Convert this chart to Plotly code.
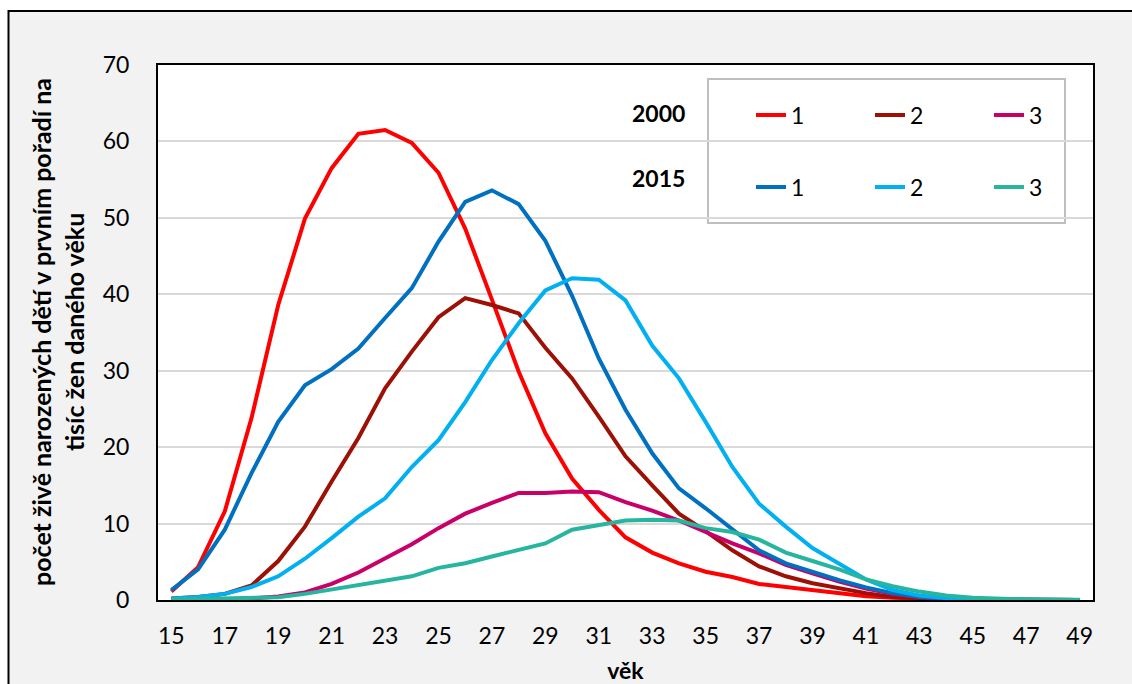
import plotly.graph_objects as go

ages = list(range(15, 50))
tick_ages = list(range(15, 50, 2))

y2000_p1 = [1.1, 4.3, 11.6, 23.8, 38.6, 49.9, 56.5, 61.0, 61.5, 59.8, 55.9, 48.6, 39.3, 29.9, 21.8,
            15.9, 11.8, 8.2, 6.2, 4.8, 3.7, 3.0, 2.1, 1.7, 1.3, 0.9, 0.5, 0.3, 0.15, 0.08,
            0.04, 0.02, 0.01, 0.0, 0.0]
y2000_p2 = [0.2, 0.4, 0.8, 1.9, 5.1, 9.6, 15.5, 21.2, 27.7, 32.5, 37.0, 39.5, 38.6, 37.5, 33.0,
            29.0, 24.0, 18.8, 15.0, 11.3, 9.0, 6.5, 4.4, 3.1, 2.2, 1.5, 0.9, 0.4, 0.2, 0.08,
            0.04, 0.02, 0.01, 0.0, 0.0]
y2000_p3 = [0.05, 0.05, 0.1, 0.2, 0.45, 1.0, 2.1, 3.6, 5.5, 7.3, 9.4, 11.3, 12.7, 14.0, 14.0,
            14.2, 14.1, 12.8, 11.7, 10.4, 8.9, 7.4, 6.1, 4.6, 3.5, 2.4, 1.5, 0.8, 0.4, 0.15,
            0.06, 0.03, 0.01, 0.0, 0.0]
y2015_p1 = [1.3, 4.0, 9.2, 16.6, 23.3, 28.1, 30.2, 32.9, 36.9, 40.8, 46.9, 52.1, 53.6, 51.8, 47.0,
            39.8, 31.6, 24.9, 19.2, 14.6, 12.0, 9.2, 6.5, 4.8, 3.7, 2.6, 1.65, 0.9, 0.4, 0.2,
            0.08, 0.04, 0.02, 0.01, 0.0]
y2015_p2 = [0.2, 0.4, 0.8, 1.7, 3.1, 5.4, 8.1, 10.9, 13.3, 17.4, 20.9, 25.9, 31.4, 36.2, 40.5,
            42.1, 41.9, 39.2, 33.3, 29.0, 23.3, 17.4, 12.6, 9.6, 6.8, 4.8, 2.7, 1.3, 0.6, 0.25,
            0.1, 0.04, 0.02, 0.01, 0.0]
y2015_p3 = [0.05, 0.1, 0.15, 0.2, 0.35, 0.8, 1.4, 2.0, 2.5, 3.1, 4.2, 4.8, 5.7, 6.5, 7.4,
            9.2, 9.8, 10.4, 10.5, 10.4, 9.4, 8.9, 7.9, 6.2, 5.1, 4.0, 2.7, 1.8, 1.1, 0.6,
            0.3, 0.15, 0.08, 0.04, 0.02]

series = [
    ("1", y2000_p1, "#ff0000", "legend"),
    ("2", y2000_p2, "#9c1006", "legend"),
    ("3", y2000_p3, "#c8006a", "legend"),
    ("1", y2015_p1, "#0070c0", "legend2"),
    ("2", y2015_p2, "#00b0f0", "legend2"),
    ("3", y2015_p3, "#27b5a0", "legend2"),
]
year_labels = ["2000", "2015"]
ytitle_lines = ["počet živě narozených dětí v prvním pořadí na", "tisíc žen daného věku"]
xtitle = "věk"

FONT = "Lato"
W, H = 1132, 684
L, R, T, B = 158, 39, 65, 84
PW, PH = W - L - R, H - T - B

def px(xp):
    return (xp - L) / PW

def py(yp):
    return (H - B - yp) / PH

fig = go.Figure()
for name, vals, col, lg in series:
    fig.add_trace(go.Scatter(x=ages, y=vals, mode="lines", name=name,
                             line=dict(color=col, width=4), legend=lg))

legend_common = dict(orientation="h", xanchor="left", yanchor="middle",
                     bgcolor="rgba(0,0,0,0)", borderwidth=0,
                     font=dict(family=FONT, size=23, color="black"),
                     entrywidth=74, entrywidthmode="pixels",
                     traceorder="normal", itemwidth=30)

fig.update_layout(
    width=W, height=H,
    margin=dict(l=L, r=R, t=T, b=B, autoexpand=False),
    paper_bgcolor="white",
    plot_bgcolor="white",
    font=dict(family=FONT, size=23, color="black"),
    showlegend=True,
    legend=dict(x=px(751), y=py(115), **legend_common),
    legend2=dict(x=px(751), y=py(187), **legend_common),
    xaxis=dict(range=[14.5, 49.5], tickvals=tick_ages, ticktext=[str(a) for a in tick_ages],
               showgrid=False, zeroline=False, showline=True, mirror=True,
               linecolor="black", linewidth=2, ticks="", ticklabelstandoff=14,
               tickfont=dict(family=FONT, size=23, color="black"),
               title=dict(text="<b>" + xtitle + "</b>", font=dict(family=FONT, size=23, color="black"),
                          standoff=15)),
    yaxis=dict(range=[0, 70], dtick=10, showgrid=True, gridcolor="#d9d9d9", gridwidth=2,
               zeroline=False, showline=True, mirror=True, linecolor="black", linewidth=2,
               ticks="", ticklabelstandoff=22,
               tickfont=dict(family=FONT, size=23, color="black")),
)

# chart area background & outer frame, plot area background
fig.add_shape(type="rect", xref="paper", yref="paper", x0=px(8.5), x1=px(1200), y0=py(760), y1=py(11),
              fillcolor="#f2f2f2", line=dict(color="black", width=2), layer="below")
fig.add_shape(type="rect", xref="paper", yref="paper", x0=0, x1=1, y0=0, y1=1,
              fillcolor="white", line=dict(width=0), layer="below")
# legend box
fig.add_shape(type="rect", xref="paper", yref="paper", x0=px(708), x1=px(1065), y0=py(223), y1=py(79),
              fillcolor="white", line=dict(color="#bfbfbf", width=2), layer="between")

fig.add_annotation(text="<b>" + year_labels[0] + "</b>", xref="paper", yref="paper",
                   x=px(687), y=py(113), xanchor="right", yanchor="middle", showarrow=False,
                   font=dict(family=FONT, size=23, color="black"))
fig.add_annotation(text="<b>" + year_labels[1] + "</b>", xref="paper", yref="paper",
                   x=px(687), y=py(178), xanchor="right", yanchor="middle", showarrow=False,
                   font=dict(family=FONT, size=23, color="black"))

for line_text, cx in zip(ytitle_lines, [41, 74]):
    fig.add_annotation(text="<b>" + line_text + "</b>",
                       xref="paper", yref="paper", x=px(cx), y=py(332), xanchor="center", yanchor="middle",
                       textangle=-90, showarrow=False,
                       font=dict(family=FONT, size=25, color="black"))

fig.write_html("out.html", config={"displayModeBar": False},
               post_script="document.body.style.margin='0';document.body.style.overflow='hidden';")
